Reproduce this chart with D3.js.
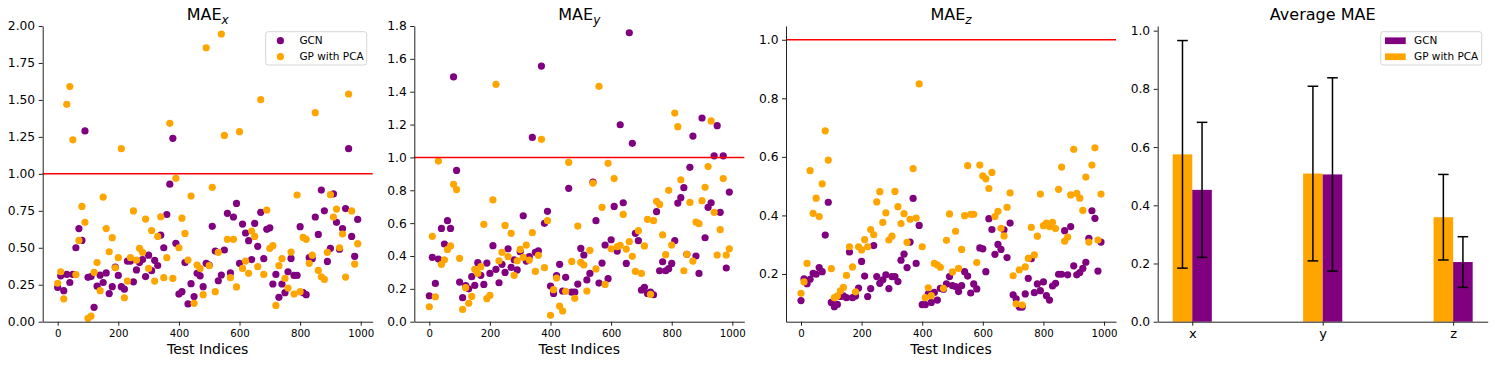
<!DOCTYPE html>
<html>
<head>
<meta charset="utf-8">
<script src="https://cdn.jsdelivr.net/npm/d3@7"></script>
<style>
  body { margin: 0; background: #fff; }
  text { font-family: "DejaVu Sans", sans-serif; }
</style>
</head>
<body>
<svg id="chart"></svg>
<script>
// test indices (every 10th sample)
const testIndices = [0,10,20,30,40,50,60,70,80,90,100,110,120,130,140,150,160,170,180,190,200,210,220,230,240,250,260,270,280,290,300,310,320,330,340,350,360,370,380,390,400,410,420,430,440,450,460,470,480,490,500,510,520,530,540,550,560,570,580,590,600,610,620,630,640,650,660,670,680,690,700,710,720,730,740,750,760,770,780,790,800,810,820,830,840,850,860,870,880,890,900,910,920,930,940,950,960,970,980,990];

const gcnMaeX = [0.232,0.31,0.21,0.32,0.265,0.32,0.50,0.63,0.55,1.29,
  0.30,0.305,0.097,0.24,0.315,0.265,0.33,0.19,0.237,0.37,
  0.313,0.237,0.22,0.41,0.41,0.27,0.35,0.40,0.42,0.305,
  0.45,0.345,0.415,0.38,0.585,0.50,0.725,0.93,1.24,0.53,
  0.187,0.203,0.40,0.12,0.257,0.17,0.327,0.31,0.237,0.395,
  0.383,0.645,0.478,0.277,0.316,0.485,0.733,0.33,0.708,0.80,
  0.395,0.66,0.60,0.548,0.42,0.665,0.51,0.74,0.426,0.625,
  0.635,0.255,0.32,0.165,0.255,0.196,0.338,0.428,0.313,0.313,
  0.643,0.196,0.183,0.433,0.426,0.708,0.59,0.89,0.75,0.408,
  0.496,0.864,0.672,0.49,0.63,0.765,1.17,0.577,0.442,0.692];
const gpMaeX = [0.26,0.338,0.155,1.47,1.59,1.23,0.318,0.55,0.78,0.672,
  0.023,0.038,0.334,0.40,0.21,0.843,0.63,0.473,0.568,0.365,
  0.433,1.17,0.162,0.275,0.433,0.749,0.417,0.496,0.469,0.694,
  0.36,0.616,0.275,0.577,0.71,0.298,0.433,1.342,0.293,0.97,
  0.50,0.70,0.597,0.417,0.85,0.124,0.383,0.36,0.183,1.853,
  0.379,0.909,0.203,0.469,1.946,1.26,0.557,0.298,0.557,0.235,
  1.285,0.36,0.41,0.327,0.613,0.577,0.372,1.502,0.32,0.755,
  0.496,0.514,0.11,0.379,0.426,0.293,0.228,0.471,0.187,0.857,
  0.203,0.57,0.557,0.395,0.45,1.414,0.347,0.304,0.286,0.469,
  0.859,0.708,0.762,0.50,0.593,0.302,1.54,0.749,0.39,0.528];

const gcnMaeY = [0.158,0.392,0.233,0.381,0.568,0.473,0.615,0.568,1.49,0.921,
  0.241,0.146,0.219,0.20,0.274,0.221,0.359,0.282,0.227,0.357,
  0.294,0.463,0.319,0.237,0.349,0.30,0.444,0.331,0.377,0.315,
  0.426,0.645,0.369,0.396,1.122,0.422,0.432,1.556,0.599,0.672,
  0.217,0.172,0.28,0.349,0.187,0.27,0.812,0.18,0.18,0.229,
  0.446,0.406,0.254,0.294,0.85,0.615,0.235,0.357,0.467,0.262,
  0.499,0.702,0.43,1.199,0.724,0.355,1.759,1.086,0.538,0.493,
  0.193,0.209,0.172,0.18,0.164,0.67,0.31,0.365,0.31,0.323,
  0.355,0.493,0.722,0.755,0.816,0.41,0.94,1.13,0.40,0.294,
  1.24,0.511,0.696,0.724,1.01,1.193,0.666,1.01,0.327,0.789];
const gpMaeY = [0.091,0.52,0.152,0.978,0.349,0.377,0.44,0.461,0.836,0.804,
  0.386,0.075,0.207,0.112,0.154,0.319,0.294,0.335,0.593,0.14,
  0.16,0.741,1.445,0.371,0.422,0.586,0.396,0.538,0.282,0.371,
  0.44,0.392,0.467,0.375,0.542,0.306,0.404,1.11,0.329,0.615,
  0.039,0.195,0.266,0.095,0.065,0.185,0.97,0.367,0.142,0.582,
  0.361,0.345,0.187,0.434,0.844,0.321,1.433,0.696,0.227,0.964,
  0.444,0.871,0.457,0.465,0.653,0.442,0.487,0.398,0.306,0.554,
  0.294,0.461,0.623,0.166,0.615,0.733,0.714,0.528,0.408,0.80,
  0.467,1.27,1.187,0.864,0.31,0.41,0.726,0.369,0.607,0.597,
  0.737,0.818,0.944,1.222,0.666,0.406,0.56,0.871,0.406,0.444];

const gcnMaeZ = [0.109,0.183,0.167,0.182,0.202,0.199,0.222,0.208,0.333,0.445,
  0.103,0.088,0.096,0.123,0.125,0.119,0.275,0.119,0.125,0.152,
  0.243,0.193,0.123,0.15,0.297,0.191,0.168,0.18,0.197,0.15,
  0.191,0.191,0.174,0.247,0.268,0.222,0.309,0.458,0.236,0.366,
  0.095,0.095,0.132,0.103,0.137,0.111,0.151,0.148,0.166,0.191,
  0.16,0.157,0.14,0.16,0.208,0.193,0.135,0.166,0.149,0.289,
  0.286,0.208,0.389,0.352,0.267,0.301,0.284,0.351,0.256,0.374,
  0.129,0.115,0.087,0.087,0.132,0.185,0.252,0.136,0.166,0.143,
  0.173,0.126,0.111,0.159,0.168,0.199,0.199,0.348,0.197,0.362,
  0.228,0.197,0.205,0.219,0.24,0.322,0.416,0.39,0.21,0.309];
const gpMaeZ = [0.134,0.173,0.236,0.553,0.407,0.459,0.396,0.508,0.689,0.589,
  0.218,0.119,0.125,0.142,0.154,0.195,0.293,0.224,0.139,0.293,
  0.282,0.317,0.293,0.352,0.334,0.446,0.481,0.376,0.409,0.316,
  0.329,0.482,0.43,0.372,0.406,0.308,0.387,0.56,0.391,0.849,
  0.293,0.119,0.153,0.126,0.236,0.231,0.223,0.151,0.315,0.405,
  0.207,0.346,0.219,0.284,0.399,0.57,0.404,0.404,0.239,0.572,
  0.535,0.525,0.492,0.547,0.396,0.414,0.356,0.33,0.428,0.477,
  0.194,0.098,0.214,0.094,0.224,0.253,0.359,0.265,0.329,0.473,
  0.365,0.374,0.362,0.376,0.355,0.489,0.565,0.312,0.326,0.47,
  0.626,0.475,0.459,0.417,0.531,0.309,0.572,0.631,0.316,0.473];

// average MAE with std error bars
const avgCategories = ["x", "y", "z"];
const gpAvg = [0.575, 0.509, 0.359];
const gpStd = [0.391, 0.30, 0.147];
const gcnAvg = [0.453, 0.506, 0.205];
const gcnStd = [0.232, 0.332, 0.087];

const scatterXTicks = [0, 200, 400, 600, 800, 1000];
const maeXTicks = [0, 0.25, 0.5, 0.75, 1.0, 1.25, 1.5, 1.75, 2.0];
const maeYTicks = [0, 0.2, 0.4, 0.6, 0.8, 1.0, 1.2, 1.4, 1.6, 1.8];
const maeZTicks = [0.2, 0.4, 0.6, 0.8, 1.0];
const avgTicks = [0, 0.2, 0.4, 0.6, 0.8, 1.0];

const PURPLE = "#800080";
const ORANGE = "#FFA500";

const width = 1495;
const height = 365;
const panelLeft = [42.7, 414.3, 786, 1157.7];
const panelW = 330;
const plotTop = 26;
const plotBottom = 321.7;

const svg = d3.select("#chart").attr("width", width).attr("height", height);
svg.append("rect").attr("width", width).attr("height", height).attr("fill", "#fff");

const styleAxis = (fontSize) => (ax) => {
  ax.select(".domain").attr("stroke", "#222").attr("stroke-width", 1);
  ax.selectAll(".tick line").attr("stroke", "#222").attr("stroke-width", 1);
  ax.selectAll(".tick text").attr("fill", "#000").attr("font-size", fontSize)
    .attr("font-family", "DejaVu Sans, sans-serif");
  ax.attr("font-family", null).attr("font-size", null);
};

const addTitle = (x0, main, sub) => {
  const t = svg.append("text")
    .attr("x", x0 + panelW / 2).attr("y", 20)
    .attr("text-anchor", "middle").attr("font-size", 16).attr("fill", "#000")
    .text(main);
  if (sub) {
    t.append("tspan").attr("font-size", 12).attr("font-style", "italic")
      .attr("dy", 4).text(sub);
  }
};

const addLegend = (x0, kind) => {
  const lx = x0 + panelW - 6 - 101;
  const ly = plotTop + 5.7;
  const lg = svg.append("g").attr("transform", `translate(${lx},${ly})`);
  lg.append("rect").attr("width", 101).attr("height", 33.3).attr("rx", 2.5)
    .attr("fill", "#fff").attr("fill-opacity", 0.8)
    .attr("stroke", "#d6d6d6").attr("stroke-width", 1);
  const items = [["GCN", PURPLE], ["GP with PCA", ORANGE]];
  items.forEach(([label, color], k) => {
    const cy = 9 + k * 16;
    if (kind === "dot") {
      lg.append("circle").attr("cx", 14.7).attr("cy", cy).attr("r", 3.6).attr("fill", color);
    } else {
      lg.append("rect").attr("x", 4.3).attr("y", cy - 3.3).attr("width", 20.7)
        .attr("height", 6.7).attr("fill", color);
    }
    lg.append("text").attr("x", kind === "dot" ? 33.7 : 33.3).attr("y", cy)
      .attr("dy", "0.36em").attr("font-size", 10.5).attr("fill", "#000").text(label);
  });
};

const drawScatter = (i, sub, gcn, gp, yDomain, yTicks, yFmt, legend) => {
  const x0 = panelLeft[i];
  const x = d3.scaleLinear().domain([-49.5, 1039.5]).range([x0, x0 + panelW]);
  const y = d3.scaleLinear().domain(yDomain).range([plotBottom, plotTop]);
  const g = svg.append("g");

  g.append("g").selectAll("circle").data(gcn).join("circle")
    .attr("cx", (d, k) => x(testIndices[k])).attr("cy", (d) => y(d))
    .attr("r", 3.6).attr("fill", PURPLE);
  g.append("g").selectAll("circle").data(gp).join("circle")
    .attr("cx", (d, k) => x(testIndices[k])).attr("cy", (d) => y(d))
    .attr("r", 3.6).attr("fill", ORANGE);

  g.append("line")
    .attr("x1", x0).attr("x2", x0 + panelW)
    .attr("y1", y(1)).attr("y2", y(1))
    .attr("stroke", "#ff0000").attr("stroke-width", 1.5);

  g.append("g").attr("transform", `translate(0,${plotBottom})`)
    .call(d3.axisBottom(x).tickValues(scatterXTicks).tickFormat(d3.format("d"))
      .tickSize(4).tickPadding(4.5).tickSizeOuter(0))
    .call(styleAxis(10.2));
  g.append("g").attr("transform", `translate(${x0},0)`)
    .call(d3.axisLeft(y).tickValues(yTicks).tickFormat(d3.format(yFmt))
      .tickSize(4).tickPadding(3.5).tickSizeOuter(0))
    .call(styleAxis(12.3));

  svg.append("text").attr("x", x0 + panelW / 2).attr("y", 354)
    .attr("text-anchor", "middle").attr("font-size", 14).attr("fill", "#000")
    .text("Test Indices");
  addTitle(x0, "MAE", sub);
  if (legend) addLegend(x0, "dot");
};

drawScatter(0, "x", gcnMaeX, gpMaeX, [0, 2.0], maeXTicks, ".2f", true);
drawScatter(1, "y", gcnMaeY, gpMaeY, [0, 1.8], maeYTicks, ".1f", false);
drawScatter(2, "z", gcnMaeZ, gpMaeZ, [0.037, 1.047], maeZTicks, ".1f", false);

// Average MAE bar chart
{
  const x0 = panelLeft[3];
  const x = d3.scaleLinear().domain([-0.265, 2.265]).range([x0, x0 + panelW]);
  const y = d3.scaleLinear().domain([0, 1.016]).range([plotBottom, plotTop]);
  const barW = 0.15;
  const g = svg.append("g");

  const series = [
    { avg: gpAvg, std: gpStd, color: ORANGE, off: -barW },
    { avg: gcnAvg, std: gcnStd, color: PURPLE, off: 0 },
  ];
  series.forEach((s) => {
    g.append("g").selectAll("rect").data(s.avg).join("rect")
      .attr("x", (d, k) => x(k + s.off))
      .attr("width", x(barW) - x(0))
      .attr("y", (d) => y(d))
      .attr("height", (d) => y(0) - y(d))
      .attr("fill", s.color);
  });
  series.forEach((s) => {
    const eb = g.append("g").selectAll("g").data(s.avg).join("g")
      .attr("stroke", "#000").attr("stroke-width", 1.5);
    const cx = (d, k) => x(k + s.off + barW / 2);
    eb.append("line").attr("x1", cx).attr("x2", cx)
      .attr("y1", (d, k) => y(d - s.std[k])).attr("y2", (d, k) => y(d + s.std[k]));
    eb.append("line").attr("x1", (d, k) => cx(d, k) - 5.3).attr("x2", (d, k) => cx(d, k) + 5.3)
      .attr("y1", (d, k) => y(d + s.std[k])).attr("y2", (d, k) => y(d + s.std[k]));
    eb.append("line").attr("x1", (d, k) => cx(d, k) - 5.3).attr("x2", (d, k) => cx(d, k) + 5.3)
      .attr("y1", (d, k) => y(d - s.std[k])).attr("y2", (d, k) => y(d - s.std[k]));
  });

  g.append("g").attr("transform", `translate(0,${plotBottom})`)
    .call(d3.axisBottom(x).tickValues([0, 1, 2]).tickFormat((d) => avgCategories[d])
      .tickSize(4).tickPadding(3.5).tickSizeOuter(0))
    .call(styleAxis(13));
  g.append("g").attr("transform", `translate(${x0},0)`)
    .call(d3.axisLeft(y).tickValues(avgTicks).tickFormat(d3.format(".1f"))
      .tickSize(4).tickPadding(3.5).tickSizeOuter(0))
    .call(styleAxis(12.3));

  addTitle(x0, "Average MAE", null);
  addLegend(x0, "bar");
}
</script>
</body>
</html>
